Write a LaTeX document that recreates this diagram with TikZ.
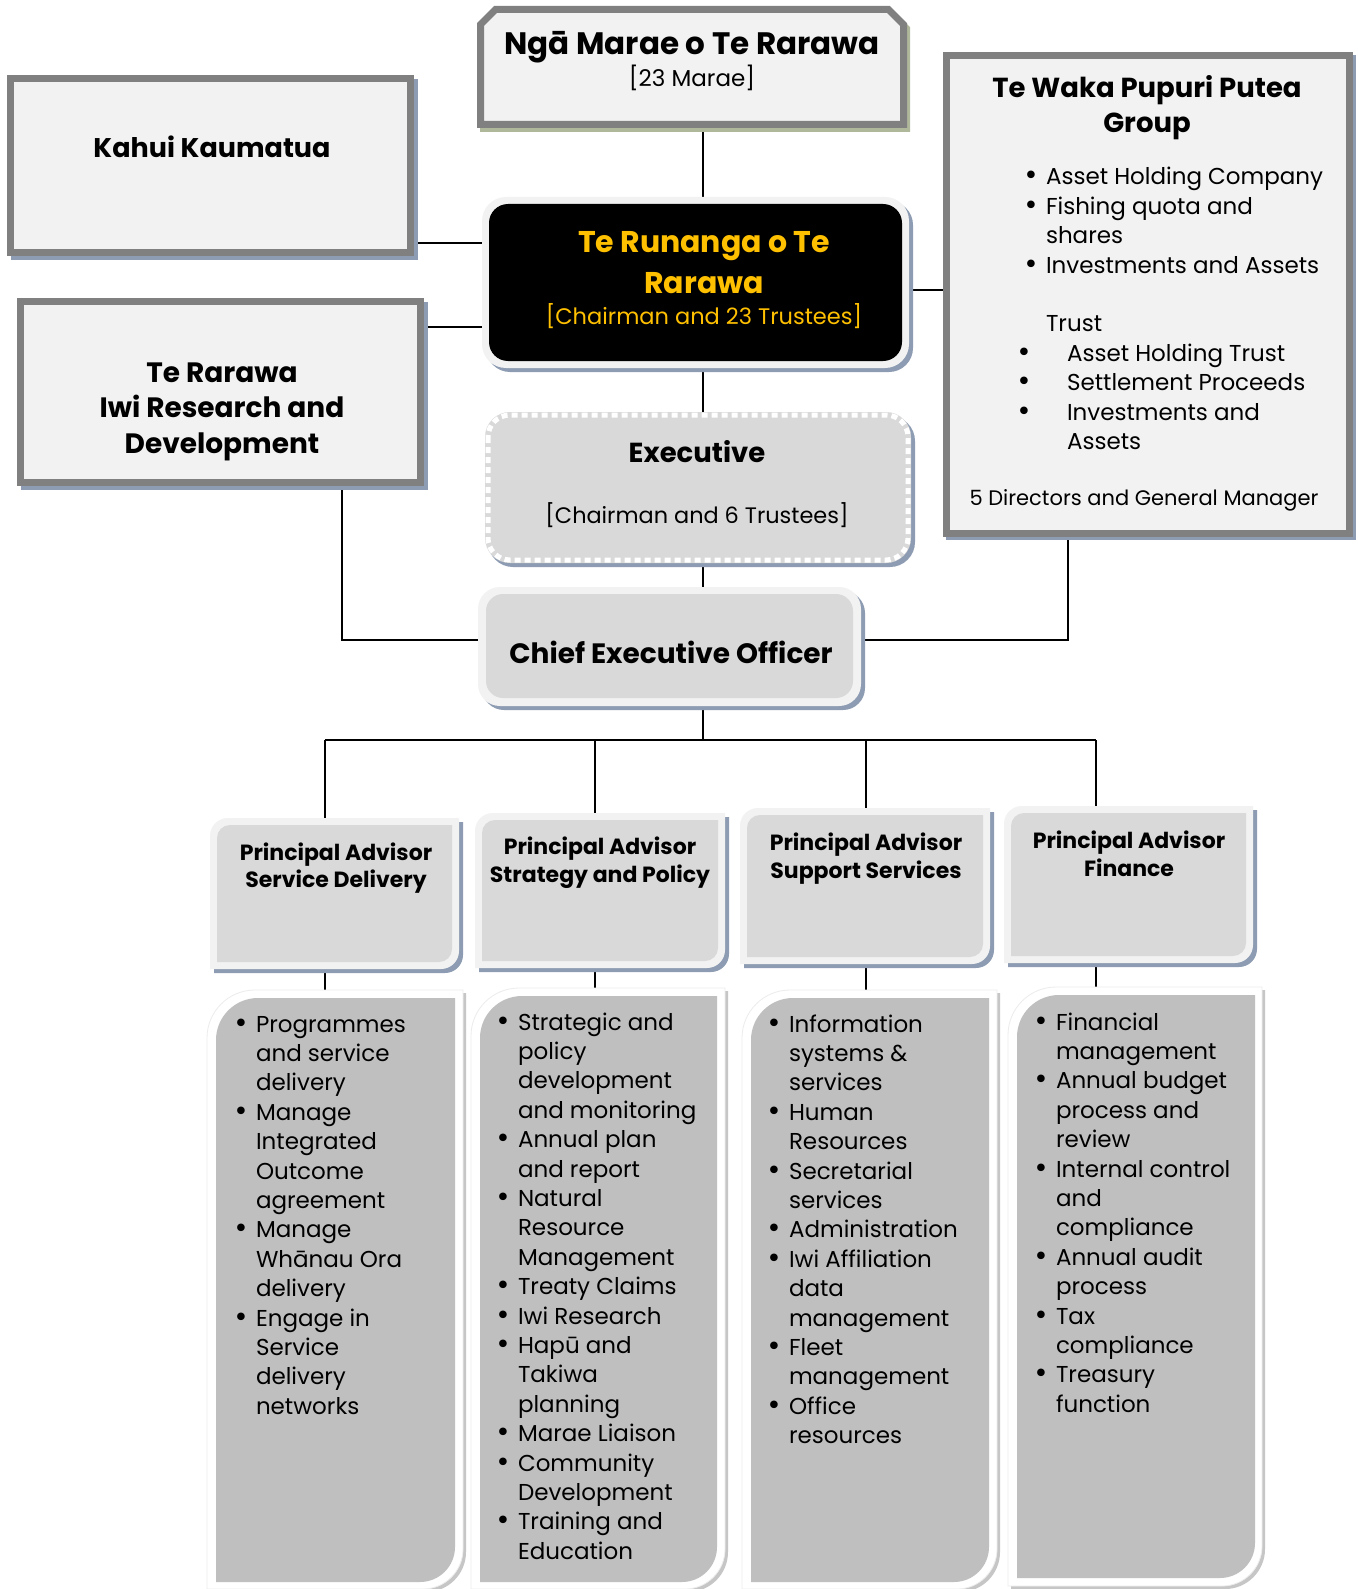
\documentclass[tikz,border=0pt]{standalone}
\usepackage{fontspec}
\setmainfont{Poppins}
\newfontfamily\bulfont{DejaVu Sans}
\usetikzlibrary{fit}
\definecolor{bordergray}{RGB}{128,128,128}
\definecolor{lightfill}{RGB}{242,242,242}
\definecolor{midfill}{RGB}{217,217,217}
\definecolor{listfill}{RGB}{191,191,191}
\definecolor{shadowblue}{RGB}{141,156,178}
\definecolor{shadowolive}{RGB}{176,184,156}
\definecolor{gold}{RGB}{255,192,0}
\newcommand\fsz[2]{\fontsize{#1}{#2}\selectfont}
\newcommand\dotmark{{\bulfont\fontsize{26}{26}\selectfont •}}
\newcommand\bul{\leavevmode\llap{\makebox[30pt][c]{\dotmark}}}
\newcommand\bulw{\leavevmode\llap{\makebox[86pt][c]{\dotmark}}}
% L T R B r1 r2 : rounded top-left and bottom-right
\newcommand\tlbr[7]{\path[#1] (#2,-#5) -- (#2,-#3-#6) arc[start angle=180,end angle=90,radius=#6] -- (#4,-#3) -- (#4,-#5+#7) arc[start angle=0,end angle=-90,radius=#7] -- cycle;}
% L T R B c : chamfered top corners
\newcommand\chamf[6]{\path[#1] (#2,-#5) -- (#2,-#3-#6) -- (#2+#6,-#3) -- (#4-#6,-#3) -- (#4,-#3-#6) -- (#4,-#5) -- cycle;}
\begin{document}
\begin{tikzpicture}[x=1pt,y=1pt,
  holder/.style={inner sep=0pt, outer sep=0pt, draw=none},
  conn/.style={draw=black, line width=1.6pt},
  ctr/.style={inner sep=0pt, outer sep=0pt, anchor=base},
  lft/.style={inner sep=0pt, outer sep=0pt, anchor=base west}]
\useasboundingbox (0,0) rectangle (1357,-1589);
\fill[white] (0,0) rectangle (1357,-1589);

% ---------- holder nodes ----------
\node[holder, fit={(477,-6) (907,-128)}] (marae) {};
\node[holder, fit={(482,-197) (909,-368)}] (runanga) {};
\node[holder, fit={(485,-412) (911,-563)}] (exec) {};
\node[holder, fit={(478,-587) (861,-706)}] (ceo) {};
\node[holder, fit={(7,-75) (414,-256)}] (kahui) {};
\node[holder, fit={(17,-298) (424,-486)}] (iwi) {};
\node[holder, fit={(943,-52) (1353,-537)}] (waka) {};
\node[holder, fit={(210,-818) (459,-969)}] (pa1) {};
\node[holder, fit={(475,-813) (725,-968)}] (pa2) {};
\node[holder, fit={(740,-808) (990,-964)}] (pa3) {};
\node[holder, fit={(1004,-806) (1253,-963)}] (pa4) {};
\node[holder, fit={(207,-990) (463,-1589)}] (list1) {};
\node[holder, fit={(471,-988) (725,-1589)}] (list2) {};
\node[holder, fit={(742,-990) (997,-1589)}] (list3) {};
\node[holder, fit={(1008,-987) (1262,-1586)}] (list4) {};

% ---------- connectors ----------
\coordinate (spine) at (703,0);
\coordinate (yk) at (0,-243);
\coordinate (yi) at (0,-327);
\coordinate (yw) at (0,-290);
\coordinate (yc) at (0,-640);
\coordinate (xl) at (342,0);
\coordinate (xr) at (1068,0);
\coordinate (b1) at (325,-740);
\coordinate (b2) at (595,-740);
\coordinate (b3) at (866,-740);
\coordinate (b4) at (1096,-740);
\coordinate (bc) at (703,-740);

\draw[conn] (marae.south -| spine) -- (runanga.north -| spine);
\draw[conn] (runanga.south -| spine) -- (exec.north -| spine);
\draw[conn] (exec.south -| spine) -- (ceo.north -| spine);
\draw[conn] (ceo.south -| spine) -- (bc);
\draw[conn] (kahui.east |- yk) -- (runanga.west |- yk);
\draw[conn] (iwi.east |- yi) -- (runanga.west |- yi);
\draw[conn] (runanga.east |- yw) -- (waka.west |- yw);
\draw[conn] (iwi.south -| xl) |- (ceo.west |- yc);
\draw[conn] (waka.south -| xr) |- (ceo.east |- yc);
\draw[conn] (b1) -- (b4);
\draw[conn] (b1) -- (pa1.north -| b1);
\draw[conn] (b2) -- (pa2.north -| b2);
\draw[conn] (b3) -- (pa3.north -| b3);
\draw[conn] (b4) -- (pa4.north -| b4);
\draw[conn] (pa1.south -| b1) -- (list1.north -| b1);
\draw[conn] (pa2.south -| b2) -- (list2.north -| b2);
\draw[conn] (pa3.south -| b3) -- (list3.north -| b3);
\draw[conn] (pa4.south -| b4) -- (list4.north -| b4);

% ---------- shapes ----------
% Marae
\chamf{fill=shadowolive, draw=shadowolive, line width=7pt}{483.5}{13.5}{906.5}{128.5}{15}
\chamf{fill=lightfill, draw=bordergray, line width=7pt}{480.5}{9.5}{903.5}{124.5}{15}
% Runanga
\fill[shadowblue, rounded corners=24pt] (486,-201) rectangle (913,-372);
\fill[lightfill, rounded corners=24pt] (482,-197) rectangle (909,-368);
\fill[black, rounded corners=19pt] (489,-204) rectangle (902,-361);
% Executive
\fill[shadowblue, rounded corners=25pt] (488,-416) rectangle (915,-567);
\fill[midfill, rounded corners=25pt] (485,-412) rectangle (911,-563);
\draw[white, line width=5pt, dash pattern=on 6pt off 4pt, rounded corners=22pt] (488,-415) rectangle (908,-560);
% CEO
\fill[shadowblue, rounded corners=22pt] (482,-591) rectangle (865,-710);
\fill[lightfill, rounded corners=22pt] (478,-587) rectangle (861,-706);
\fill[midfill, rounded corners=17pt] (486,-594) rectangle (853,-698);
% Kahui
\fill[shadowblue] (11,-79) rectangle (418,-260);
\draw[fill=lightfill, draw=bordergray, line width=7pt] (10.5,-78.5) rectangle (410.5,-252.5);
% Iwi
\fill[shadowblue] (21,-302) rectangle (428,-490);
\draw[fill=lightfill, draw=bordergray, line width=7pt] (20.5,-301.5) rectangle (420.5,-482.5);
% Te Waka
\fill[shadowblue] (946,-55) rectangle (1356,-540);
\draw[fill=lightfill, draw=bordergray, line width=7pt] (946.5,-55.5) rectangle (1349.5,-533.5);
% PA boxes
\tlbr{fill=shadowblue}{214}{822}{463}{973}{18}{18}
\tlbr{fill=lightfill}{210}{818}{459}{969}{18}{18}
\tlbr{fill=midfill}{217}{825}{452}{962}{13}{13}
\tlbr{fill=shadowblue}{479}{817}{729}{972}{18}{18}
\tlbr{fill=lightfill}{475}{813}{725}{968}{18}{18}
\tlbr{fill=midfill}{482}{820}{718}{961}{13}{13}
\tlbr{fill=shadowblue}{744}{812}{994}{968}{18}{18}
\tlbr{fill=lightfill}{740}{808}{990}{964}{18}{18}
\tlbr{fill=midfill}{747}{815}{983}{957}{13}{13}
\tlbr{fill=shadowblue}{1008}{810}{1257}{967}{18}{18}
\tlbr{fill=lightfill}{1004}{806}{1253}{963}{18}{18}
\tlbr{fill=midfill}{1011}{813}{1246}{956}{13}{13}
% List boxes
\tlbr{fill=gray!45}{210}{993}{466}{1592}{48}{40}
\tlbr{fill=white, draw=gray!15, line width=0.8pt}{207}{990}{463}{1589}{48}{40}
\tlbr{fill=listfill}{216}{998}{455}{1582}{42}{35}
\tlbr{fill=gray!45}{474}{991}{728}{1592}{48}{40}
\tlbr{fill=white, draw=gray!15, line width=0.8pt}{471}{988}{725}{1589}{48}{40}
\tlbr{fill=listfill}{480}{996}{717}{1582}{42}{35}
\tlbr{fill=gray!45}{745}{993}{1000}{1592}{48}{40}
\tlbr{fill=white, draw=gray!15, line width=0.8pt}{742}{990}{997}{1589}{48}{40}
\tlbr{fill=listfill}{751}{998}{989}{1582}{42}{35}
\tlbr{fill=gray!45}{1011}{990}{1265}{1589}{48}{40}
\tlbr{fill=white, draw=gray!15, line width=0.8pt}{1008}{987}{1262}{1586}{48}{40}
\tlbr{fill=listfill}{1017}{995}{1255}{1578}{42}{35}

% ---------- texts ----------
\node[ctr] (maraeA) at (692,-55) {\fsz{31}{36}\bfseries Ngā Marae o Te Rarawa};
\node[ctr] (maraeB) at (692,-87) {\fsz{23}{28}[23 Marae]};
\node[ctr, text=gold] (runA) at (704,-252) {\parbox[t]{400pt}{\centering\fsz{30}{41}\bfseries Te Runanga o Te\\Rarawa}};
\node[ctr, text=gold] (runB) at (704,-324) {\fsz{22.5}{27}[Chairman and 23 Trustees]};
\node[ctr] (exA) at (697,-462) {\fsz{27.5}{32}\bfseries Executive};
\node[ctr] (exB) at (697,-523) {\fsz{22.4}{27}[Chairman and 6 Trustees]};
\node[ctr] (ceoA) at (671,-663) {\fsz{28}{33}\bfseries Chief Executive Officer};
\node[ctr] (kahuiA) at (212,-158) {\fsz{27}{32}\bfseries Kahui Kaumatua};
\node[ctr] (iwiA) at (222,-382) {\parbox[t]{390pt}{\centering\fsz{28}{35.5}\bfseries Te Rarawa\\Iwi Research and\\Development}};
\node[ctr] (wakaA) at (1147,-98) {\parbox[t]{390pt}{\centering\fsz{27.5}{35}\bfseries Te Waka Pupuri Putea\\Group}};
\node[lft] (wakaB) at (1046,-185) {\parbox[t]{300pt}{\fsz{23}{29.4}\bul Asset Holding Company\\\bul Fishing quota and\\shares\\\bul Investments and Assets\\\mbox{}\\Trust}};
\node[lft] (wakaC) at (1067,-361.4) {\parbox[t]{280pt}{\fsz{23}{29.4}\bulw Asset Holding Trust\\\bulw Settlement Proceeds\\\bulw Investments and\\Assets}};
\node[ctr] (wakaD) at (1144,-505) {\fsz{21}{25}5 Directors and General Manager};

\node[ctr] (pa1T) at (336,-860) {\parbox[t]{260pt}{\centering\fsz{22}{27.5}\bfseries Principal Advisor\\Service Delivery}};
\node[ctr] (pa2T) at (600,-854) {\parbox[t]{260pt}{\centering\fsz{22}{28}\bfseries Principal Advisor\\Strategy and Policy}};
\node[ctr] (pa3T) at (866,-850) {\parbox[t]{260pt}{\centering\fsz{22}{28}\bfseries Principal Advisor\\Support Services}};
\node[ctr] (pa4T) at (1129,-848) {\parbox[t]{260pt}{\centering\fsz{22}{28}\bfseries Principal Advisor\\Finance}};

\node[lft] (l1T) at (256,-1032) {\parbox[t]{220pt}{\fsz{23}{29.4}\bul Programmes\\and service\\delivery\\\bul Manage\\Integrated\\Outcome\\agreement\\\bul Manage\\Whānau Ora\\delivery\\\bul Engage in\\Service\\delivery\\networks}};
\node[lft] (l2T) at (518,-1030) {\parbox[t]{220pt}{\fsz{23}{29.4}\bul Strategic and\\policy\\development\\and monitoring\\\bul Annual plan\\and report\\\bul Natural\\Resource\\Management\\\bul Treaty Claims\\\bul Iwi Research\\\bul Hapū and\\Takiwa\\planning\\\bul Marae Liaison\\\bul Community\\Development\\\bul Training and\\Education}};
\node[lft] (l3T) at (789,-1032) {\parbox[t]{220pt}{\fsz{23}{29.4}\bul Information\\systems \&\\services\\\bul Human\\Resources\\\bul Secretarial\\services\\\bul Administration\\\bul Iwi Affiliation\\data\\management\\\bul Fleet\\management\\\bul Office\\resources}};
\node[lft] (l4T) at (1056,-1030) {\parbox[t]{220pt}{\fsz{23}{29.4}\bul Financial\\management\\\bul Annual budget\\process and\\review\\\bul Internal control\\and\\compliance\\\bul Annual audit\\process\\\bul Tax\\compliance\\\bul Treasury\\function}};
\end{tikzpicture}
\end{document}
